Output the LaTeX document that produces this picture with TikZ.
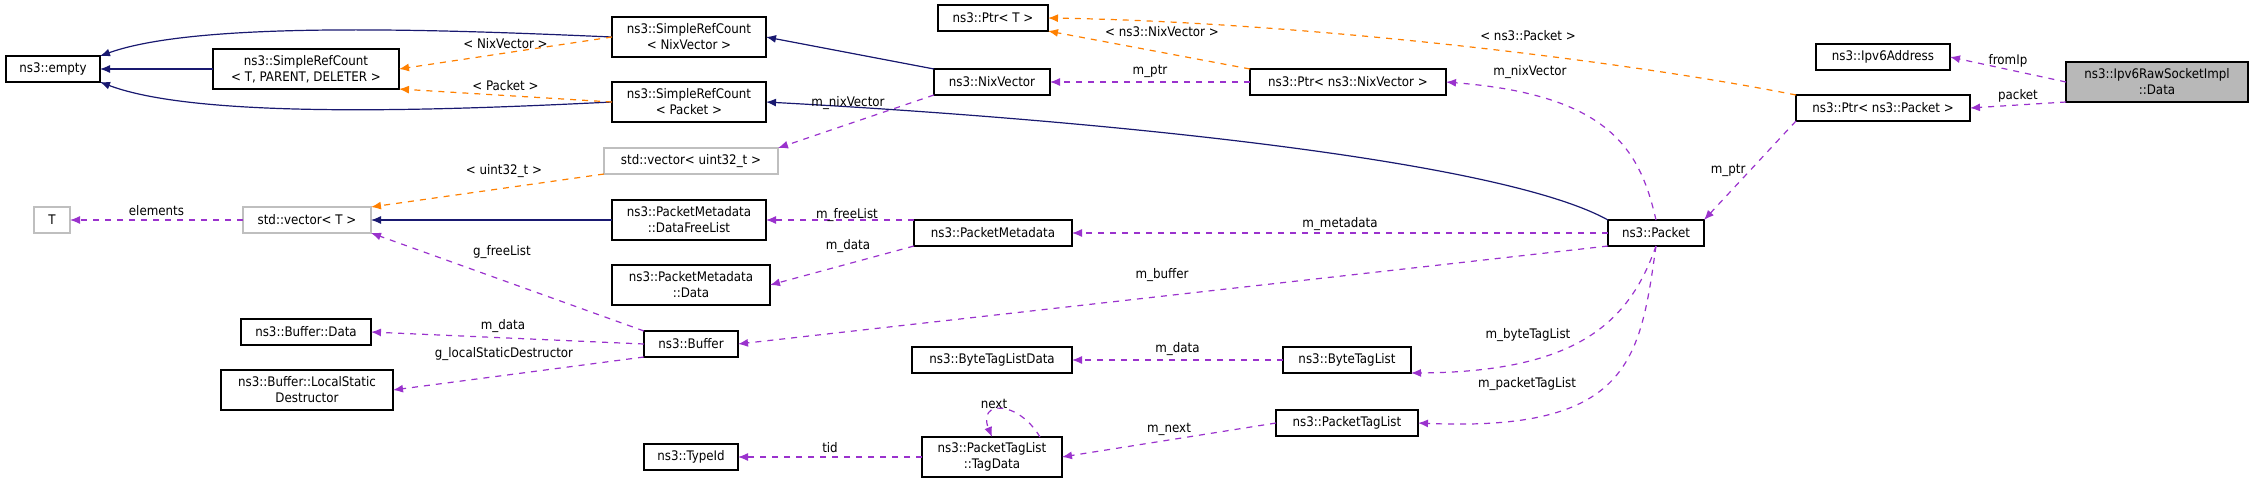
\documentclass[tikz,border=0pt]{standalone}
\usepackage{fontspec}
\setmainfont{DejaVu Sans Condensed}
\usetikzlibrary{arrows.meta}

\tikzset{
	box/.style={draw=black,fill=white,semithick,inner sep=1pt,outer sep=0pt,minimum height=13pt,align=center,font=\fontsize{6.6}{8}\selectfont},
	grey/.style={box,draw=black!25},
	inh/.style={-{Latex[length=5pt,width=4pt]},draw={rgb,255:red,25;green,25;blue,112},semithick},
	tpl/.style={-{Latex[length=5pt,width=4pt]},draw=orange,dashed,semithick},
	use/.style={-{Latex[length=5pt,width=4pt]},draw={rgb,255:red,154;green,50;blue,205},dashed,semithick},
	lbl/.style={font=\fontsize{6.6}{8}\selectfont,inner sep=0pt}
}

\begin{document}
\begin{tikzpicture}[x=0.5pt,y=-0.5pt]
	\useasboundingbox (0,0) rectangle (2251,483);

	% left column
	\node [box,minimum width=47pt] at (53,69) (empty) {ns3::empty};
	\node [box,minimum width=93pt,minimum height=20pt] at (306,69) (srcT) {ns3::SimpleRefCount\\< T, PARENT, DELETER >};
	\node [grey,minimum width=18pt] at (52,220) (T) {T};
	\node [grey,minimum width=64pt] at (307,220) (vecT) {std::vector< T >};
	\node [box,minimum width=65pt] at (306,332) (bufData) {ns3::Buffer::Data};
	\node [box,minimum width=86pt,minimum height=20pt] at (307,390) (bufLsd) {ns3::Buffer::LocalStatic\\Destructor};

	% second column
	\node [box,minimum width=77pt,minimum height=20pt] at (689,37) (srcNix) {ns3::SimpleRefCount\\< NixVector >};
	\node [box,minimum width=77pt,minimum height=20pt] at (689,102) (srcPkt) {ns3::SimpleRefCount\\< Packet >};
	\node [grey,minimum width=87pt] at (691,161) (vecU) {std::vector< uint32\_t >};
	\node [box,minimum width=77pt,minimum height=20pt] at (689,220) (pmFree) {ns3::PacketMetadata\\::DataFreeList};
	\node [box,minimum width=79pt,minimum height=20pt] at (691,285) (pmData) {ns3::PacketMetadata\\::Data};
	\node [box,minimum width=47pt] at (691,344) (buffer) {ns3::Buffer};
	\node [box,minimum width=47pt] at (691,457) (typeId) {ns3::TypeId};

	% third column
	\node [box,minimum width=55pt] at (993,18) (ptrT) {ns3::Ptr< T >};
	\node [box,minimum width=58pt] at (992,82) (nix) {ns3::NixVector};
	\node [box,minimum width=79pt] at (993,233) (pm) {ns3::PacketMetadata};
	\node [box,minimum width=80pt] at (992,360) (btlData) {ns3::ByteTagListData};
	\node [box,minimum width=70pt,minimum height=20pt] at (992,457) (tagData) {ns3::PacketTagList\\::TagData};

	% fourth column
	\node [box,minimum width=98pt] at (1348,82) (ptrNix) {ns3::Ptr< ns3::NixVector >};
	\node [box,minimum width=64pt] at (1347,360) (btl) {ns3::ByteTagList};
	\node [box,minimum width=71pt] at (1347,423) (ptl) {ns3::PacketTagList};

	% right part
	\node [box,minimum width=48pt] at (1656,233) (pkt) {ns3::Packet};
	\node [box,minimum width=87pt] at (1883,108) (ptrPkt) {ns3::Ptr< ns3::Packet >};
	\node [box,minimum width=67pt] at (1883,57) (ipAddr) {ns3::Ipv6Address};
	\node [box,fill=black!28,minimum width=91pt,minimum height=20pt] at (2157,82) (raw) {ns3::Ipv6RawSocketImpl\\::Data};

	% inheritance
	\draw[inh] (srcNix.west) .. controls (450,30) and (200,20) .. (empty.north east);
	\draw[inh] (srcT) -- (empty);
	\draw[inh] (srcPkt.west) .. controls (450,110) and (200,120) .. (empty.south east);
	\draw[inh] (nix.north west) -- (srcNix.east);
	\draw[inh] (pkt.north west) .. controls (1500,160) and (1100,120) .. (srcPkt.east);
	\draw[inh] (pmFree) -- (vecT);

	% template instances
	\draw[tpl] (srcNix.west) -- node[lbl,pos=.5,above=2pt] {< NixVector >} (srcT.east);
	\draw[tpl] (srcPkt.west) -- node[lbl,pos=.5,above=2pt] {< Packet >} (srcT.south east);
	\draw[tpl] (vecU.south west) -- (vecT.north east);
	\node [lbl] at (504,171) (lblU) {< uint32\_t >};
	\draw[tpl] (ptrNix.north west) -- (ptrT.south east);
	\node [lbl] at (1162,32) (lblNix) {< ns3::NixVector >};
	\draw[tpl] (ptrPkt.north west) .. controls (1620,60) and (1300,22) .. (ptrT.east);
	\node [lbl] at (1528,36) (lblPkt) {< ns3::Packet >};

	% usage
	\draw[use] (vecT) -- node[lbl,above=2pt] {elements} (T);
	\draw[use] (nix.south west) -- (vecU.north east);
	\node [lbl] at (848,103) (lblNixV) {m\_nixVector};
	\draw[use] (pm.north west) -- (pmFree.east);
	\node [lbl] at (847,215) (lblFree) {m\_freeList};
	\draw[use] (pm.south west) -- (pmData.east);
	\node [lbl] at (848,246) (lblPmData) {m\_data};
	\draw[use] (buffer.north west) -- (vecT.south east);
	\node [lbl] at (502,252) (lblGFree) {g\_freeList};
	\draw[use] (buffer.west) -- (bufData.east);
	\node [lbl] at (503,326) (lblBufData) {m\_data};
	\draw[use] (buffer.south west) -- (bufLsd.east);
	\node [lbl] at (504,354) (lblLsd) {g\_localStaticDestructor};
	\draw[use] (pkt.south west) -- (buffer.east);
	\node [lbl] at (1162,275) (lblBuf) {m\_buffer};
	\draw[use] (pkt.west) -- node[lbl,pos=.5,above=1pt] {m\_metadata} (pm.east);
	\draw[use] (ptrNix.west) -- node[lbl,pos=.5,above=2pt] {m\_ptr} (nix.east);
	\draw[use] (pkt.north) .. controls (1640,150) and (1610,95) .. (ptrNix.east);
	\node [lbl] at (1530,72) (lblPNix) {m\_nixVector};
	\draw[use] (ptrPkt.south west) -- node[lbl,pos=.5,left=2pt] {m\_ptr} (pkt.north east);
	\draw[use] (raw.west) -- node[lbl,pos=.5,above=1pt] {fromIp} (ipAddr.east);
	\draw[use] (raw.south west) -- node[lbl,pos=.5,above=1pt] {packet} (ptrPkt.east);
	\draw[use] (btl.west) -- node[lbl,pos=.5,above=2pt] {m\_data} (btlData.east);
	\draw[use] (pkt.south) .. controls (1630,320) and (1580,372) .. (btl.south east);
	\node [lbl] at (1528,335) (lblBtl) {m\_byteTagList};
	\draw[use] (pkt.south) .. controls (1640,360) and (1630,432) .. (ptl.east);
	\node [lbl] at (1527,384) (lblPtl) {m\_packetTagList};
	\draw[use] (ptl.west) -- node[lbl,pos=.5,above=2pt] {m\_next} (tagData.east);
	\draw[use] (tagData.west) -- node[lbl,pos=.5,above=2pt] {tid} (typeId.east);
	\draw[use] (tagData.north east) ++(-22,0) .. controls (1018,400) and (977,400) .. (tagData.north);
	\node [lbl] at (994,404) (lblNext) {next};
\end{tikzpicture}
\end{document}
